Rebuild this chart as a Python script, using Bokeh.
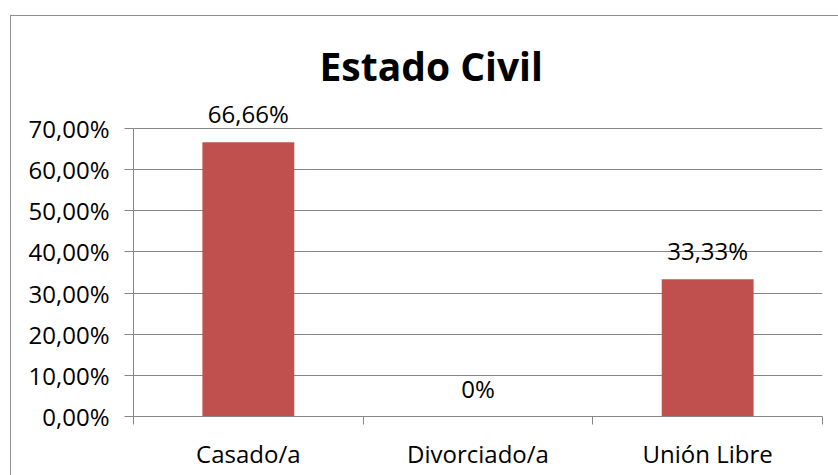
from bokeh.plotting import figure
from bokeh.models import ColumnDataSource, FixedTicker, Range1d, LabelSet
from bokeh.embed import file_html
from bokeh.resources import INLINE
from bokeh.core.properties import value

title_text = "Estado Civil"
categories = ["Casado/a", "Divorciado/a", "Unión Libre"]
values = [66.66, 0.0, 33.33]
value_labels = ["66,66%", "0%", "33,33%"]
y_ticks = [0, 10, 20, 30, 40, 50, 60, 70]
y_tick_labels = ["0,00%", "10,00%", "20,00%", "30,00%", "40,00%", "50,00%", "60,00%", "70,00%"]

FONT = "Open Sans"
GRAY = "#868686"
FS = "24px"

# layout (pixels inside the bordered chart area)
axis_top_px, axis_bottom_px, frame_top_px = 112, 400, 85
y_axis_max = max(y_ticks)
y_view_max = y_axis_max * (axis_bottom_px - frame_top_px) / (axis_bottom_px - axis_top_px)

xs = [i + 0.5 for i in range(len(categories))]
src = ColumnDataSource(dict(x=xs, top=values, lab=value_labels))

p = figure(width=828, height=460, output_backend="svg", toolbar_location=None,
           x_range=Range1d(0, len(categories)), y_range=Range1d(0, y_view_max),
           min_border_left=122, min_border_right=17, min_border_top=frame_top_px, min_border_bottom=60)
p.margin = (15, 0, 0, 10)
p.styles = {"border-top": "1px solid #8e8e8e", "border-left": "1px solid #8e8e8e"}
p.outline_line_color = None
p.background_fill_color = "white"
p.border_fill_color = "white"

p.title.text = title_text
p.title.align = "left"
p.title.offset = 186
p.title.standoff = 20
p.title.text_font = FONT
p.title.text_font_size = "39px"
p.title.text_font_style = "bold"
p.title.text_color = "black"

p.vbar(x="x", top="top", width=0.4, bottom=0, source=src, fill_color="#C0504D", line_color=None)
p.add_layout(LabelSet(x="x", y="top", text="lab", source=src, text_align="center",
                      text_baseline="alphabetic", y_offset=19, text_font=value(FONT),
                      text_font_size=value(FS), text_color="black"))

# Axes
p.xaxis.ticker = FixedTicker(ticks=xs, minor_ticks=list(range(len(categories) + 1)))
p.xaxis.major_label_overrides = {x: c for x, c in zip(xs, categories)}
p.xaxis.major_tick_out = 0
p.xaxis.major_tick_in = 0
p.xaxis.minor_tick_out = 8
p.xaxis.minor_tick_in = 0
p.xaxis.minor_tick_line_color = GRAY
p.xaxis.axis_line_color = GRAY
p.xaxis.major_label_standoff = 12
p.xaxis.major_label_text_font = FONT
p.xaxis.major_label_text_font_size = FS
p.xaxis.major_label_text_color = "black"

p.yaxis.ticker = FixedTicker(ticks=y_ticks, minor_ticks=[])
p.yaxis.bounds = (0, y_axis_max)
p.yaxis.major_label_overrides = {t: l for t, l in zip(y_ticks, y_tick_labels)}
p.yaxis.major_tick_out = 9
p.yaxis.major_tick_in = 0
p.yaxis.major_tick_line_color = GRAY
p.yaxis.axis_line_color = GRAY
p.yaxis.major_label_standoff = 15
p.yaxis.major_label_text_font = FONT
p.yaxis.major_label_text_font_size = FS
p.yaxis.major_label_text_color = "black"

p.xgrid.grid_line_color = None
p.ygrid.ticker = FixedTicker(ticks=y_ticks)
p.ygrid.grid_line_color = GRAY
p.ygrid.grid_line_width = 1

open("out.html", "w").write(file_html(p, INLINE))
